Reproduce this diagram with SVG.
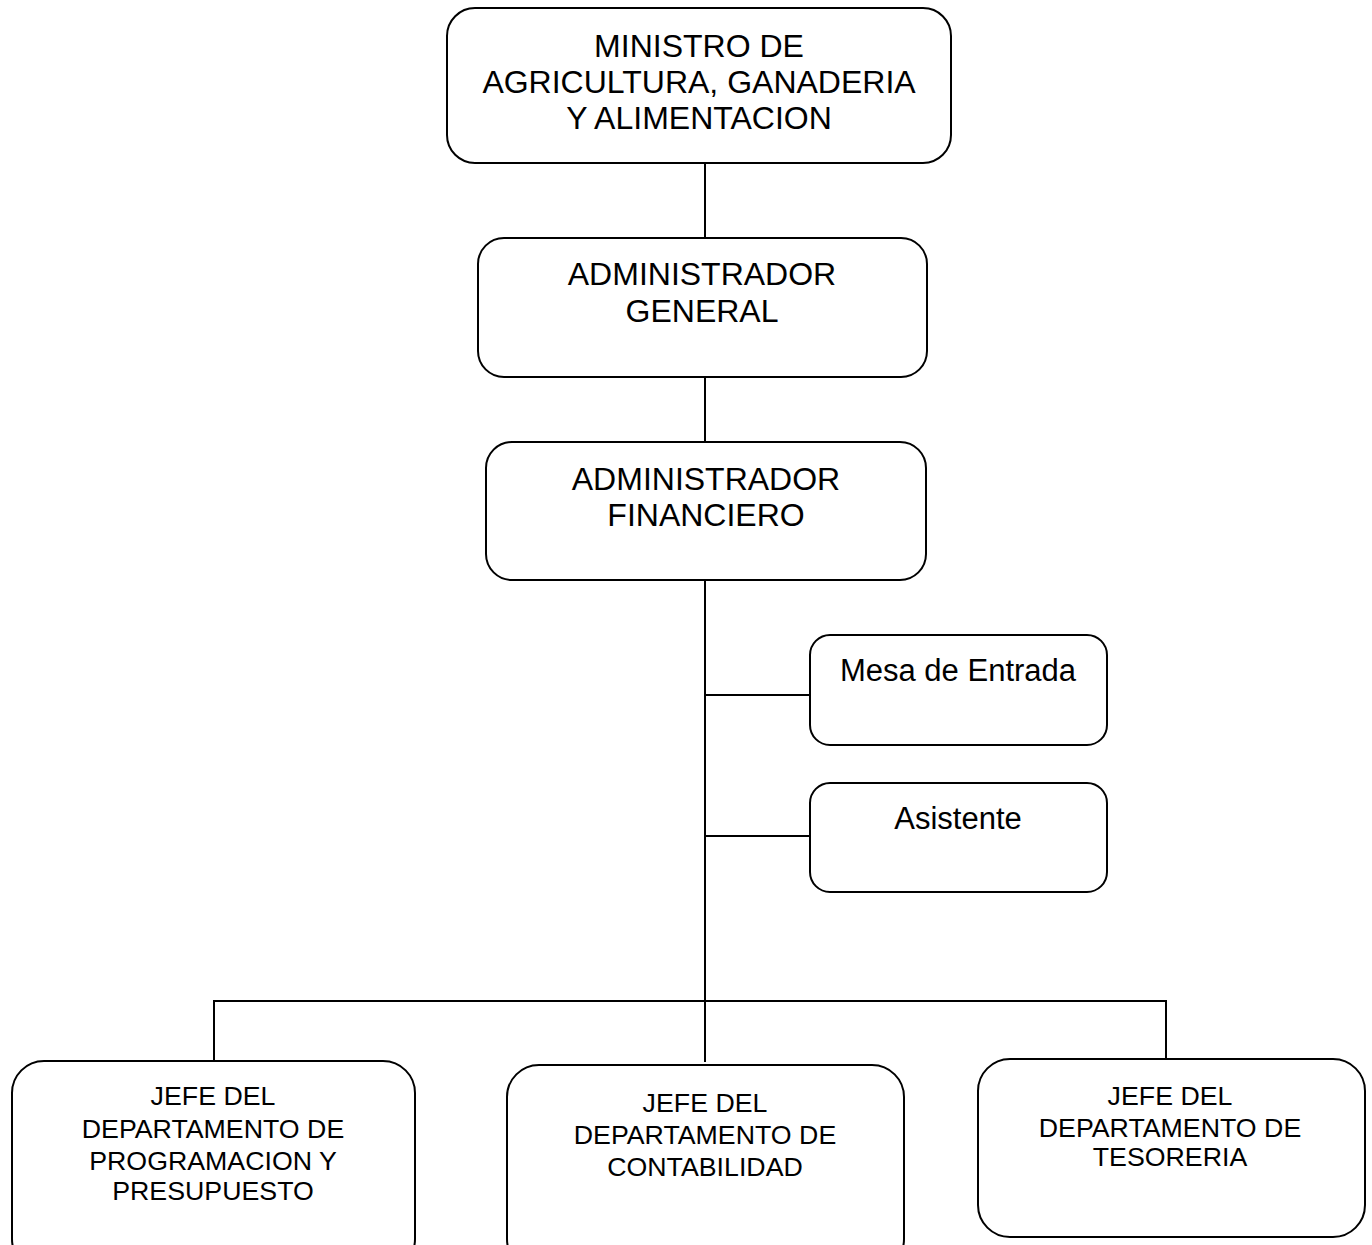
<svg xmlns="http://www.w3.org/2000/svg" width="1372" height="1245" viewBox="0 0 1372 1245">
<style>
.box{fill:#fff;stroke:#000;stroke-width:2}
.ln{stroke:#000;stroke-width:2;fill:none}
text{font-family:"Liberation Sans",Arial,sans-serif;fill:#000;text-anchor:middle}
.big{font-size:32px}
.mid{font-size:31px}
.sm{font-size:25px}
</style>
<rect width="1372" height="1245" fill="#fff"/>
<g id="connectors">
<line class="ln" x1="705" y1="163" x2="705" y2="238"/>
<line class="ln" x1="705" y1="377" x2="705" y2="442"/>
<line class="ln" x1="705" y1="580" x2="705" y2="1062"/>
<line class="ln" x1="705" y1="695" x2="810" y2="695"/>
<line class="ln" x1="705" y1="836" x2="810" y2="836"/>
<polyline class="ln" points="214,1060 214,1001 1166,1001 1166,1059"/>
</g>
<g id="ministro">
<rect class="box" x="447" y="8" width="504" height="155" rx="28"/>
<text class="big" x="699" y="57">MINISTRO DE</text>
<text class="big" x="699" y="93">AGRICULTURA, GANADERIA</text>
<text class="big" x="699" y="129">Y ALIMENTACION</text>
</g>
<g id="admin-general">
<rect class="box" x="478" y="238" width="449" height="139" rx="26"/>
<text class="big" x="702" y="285">ADMINISTRADOR</text>
<text class="big" x="702" y="322">GENERAL</text>
</g>
<g id="admin-financiero">
<rect class="box" x="486" y="442" width="440" height="138" rx="26"/>
<text class="big" x="706" y="490">ADMINISTRADOR</text>
<text class="big" x="706" y="526">FINANCIERO</text>
</g>
<g id="mesa">
<rect class="box" x="810" y="635" width="297" height="110" rx="20"/>
<text class="mid" x="958" y="681">Mesa de Entrada</text>
</g>
<g id="asistente">
<rect class="box" x="810" y="783" width="297" height="109" rx="20"/>
<text class="mid" x="958" y="829">Asistente</text>
</g>
<g id="jefe-programacion">
<rect class="box" x="12" y="1061" width="403" height="210" rx="32"/>
<g transform="translate(213,0) scale(1.07,1)">
<text class="sm" x="0" y="1105">JEFE DEL</text>
<text class="sm" x="0" y="1138">DEPARTAMENTO DE</text>
<text class="sm" x="0" y="1170">PROGRAMACION Y</text>
<text class="sm" x="0" y="1200">PRESUPUESTO</text>
</g>
</g>
<g id="jefe-contabilidad">
<rect class="box" x="507" y="1065" width="397" height="206" rx="32"/>
<g transform="translate(705,0) scale(1.07,1)">
<text class="sm" x="0" y="1112">JEFE DEL</text>
<text class="sm" x="0" y="1144">DEPARTAMENTO DE</text>
<text class="sm" x="0" y="1176">CONTABILIDAD</text>
</g>
</g>
<g id="jefe-tesoreria">
<rect class="box" x="978" y="1059" width="387" height="178" rx="32"/>
<g transform="translate(1170,0) scale(1.07,1)">
<text class="sm" x="0" y="1105">JEFE DEL</text>
<text class="sm" x="0" y="1137">DEPARTAMENTO DE</text>
<text class="sm" x="0" y="1166">TESORERIA</text>
</g>
</g>
</svg>
